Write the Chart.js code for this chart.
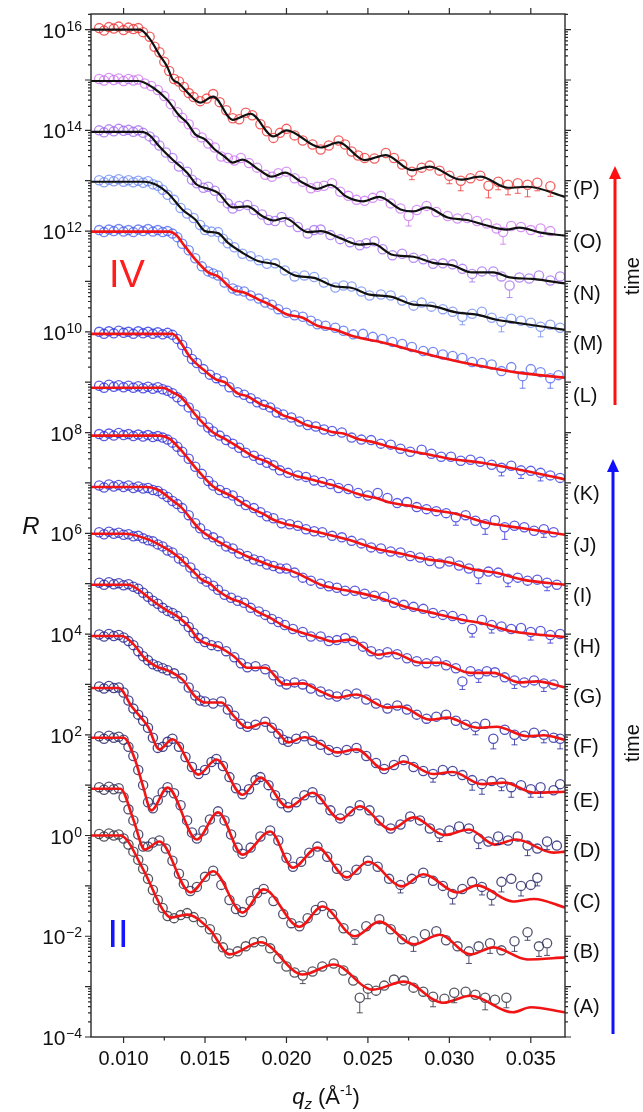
<!DOCTYPE html>
<html>
<head>
<meta charset="utf-8">
<title>Reflectivity curves</title>
<script src="https://cdn.jsdelivr.net/npm/chart.js@4.4.1/dist/chart.umd.min.js"></script>
<style>
  html, body { margin: 0; padding: 0; background: #fff; }
  #wrap { width: 643px; height: 1112px; }
</style>
</head>
<body>
<div id="wrap"><canvas id="chart" width="643" height="1112"></canvas></div>
<script>
// ---------------- data: [qz (1/A), log10 R] , optional 3rd = error bar (decades) ----------------
const FIT_A = [[0.0080,0],[0.0098,0],[0.0112,-0.67],[0.0124,-1.47],[0.0129,-1.63],[0.0139,-1.57],[0.0153,-1.87],[0.0165,-2.36],[0.0184,-2.12],[0.0210,-2.76],[0.0229,-2.56],[0.0253,-3.06],[0.0272,-2.90],[0.0296,-3.32],[0.0313,-3.18],[0.0339,-3.51],[0.0350,-3.41],[0.0371,-3.51]];
const FIT_B = [[0.0080,0.93],[0.0098,0.93],[0.0106,0.32],[0.0113,-0.28],[0.0122,-0.12],[0.0141,-1.13],[0.0155,-0.71],[0.0173,-1.53],[0.0186,-1.07],[0.0208,-1.81],[0.0222,-1.41],[0.0242,-2.00],[0.0257,-1.71],[0.0278,-2.16],[0.0294,-1.97],[0.0313,-2.36],[0.0327,-2.22],[0.0348,-2.46],[0.0371,-2.42]];
const FIT_C = [[0.0080,1.94],[0.0100,1.94],[0.0107,1.51],[0.0112,0.97],[0.0117,0.50],[0.0127,0.95],[0.0145,-0.08],[0.0158,0.46],[0.0173,-0.38],[0.0190,0.08],[0.0204,-0.64],[0.0219,-0.24],[0.0237,-0.83],[0.0250,-0.52],[0.0271,-1.01],[0.0284,-0.77],[0.0305,-1.13],[0.0317,-0.99],[0.0339,-1.31],[0.0352,-1.26],[0.0371,-1.43]];
const FIT_D = [[0.0080,2.93],[0.0097,2.93],[0.0105,2.56],[0.0115,2.16],[0.0122,1.71],[0.0130,1.91],[0.0146,1.21],[0.0157,1.51],[0.0173,0.81],[0.0184,1.15],[0.0201,0.56],[0.0216,0.85],[0.0233,0.32],[0.0245,0.58],[0.0264,0.12],[0.0278,0.36],[0.0297,0.01],[0.0312,0.12],[0.0328,-0.18],[0.0341,-0.08],[0.0364,-0.34],[0.0371,-0.32]];
const FIT_E = [[0.0080,3.96],[0.0099,3.96],[0.0106,3.80],[0.0113,3.52],[0.0120,3.36],[0.0127,3.28],[0.0136,3.10],[0.0144,2.76],[0.0150,2.64],[0.0160,2.64],[0.0168,2.36],[0.0176,2.14],[0.0187,2.24],[0.0195,2.04],[0.0201,1.85],[0.0211,1.95],[0.0221,1.82],[0.0231,1.65],[0.0243,1.71],[0.0260,1.31],[0.0272,1.47],[0.0290,1.22],[0.0302,1.26],[0.0320,1.02],[0.0334,1.05],[0.0352,0.85],[0.0371,0.87]];
const FIT_F = [[0.0080,4.98],[0.0103,4.98],[0.0110,4.86],[0.0117,4.68],[0.0126,4.48],[0.0133,4.35],[0.0140,4.15],[0.0146,3.89],[0.0152,3.80],[0.0158,3.75],[0.0168,3.55],[0.0176,3.33],[0.0187,3.33],[0.0199,3.00],[0.0210,3.02],[0.0221,2.86],[0.0231,2.74],[0.0243,2.80],[0.0262,2.54],[0.0270,2.56],[0.0288,2.30],[0.0299,2.34],[0.0317,2.14],[0.0329,2.16],[0.0348,1.97],[0.0358,1.99],[0.0371,1.90]];
const FIT_G = [[0.0080,5.99],[0.0100,5.99],[0.0115,5.88],[0.0127,5.68],[0.0134,5.52],[0.0141,5.30],[0.0148,5.08],[0.0153,5.00],[0.0158,4.86],[0.0166,4.70],[0.0173,4.62],[0.0183,4.43],[0.0190,4.32],[0.0199,4.15],[0.0210,4.02],[0.0221,3.92],[0.0229,3.85],[0.0239,3.89],[0.0256,3.59],[0.0265,3.63],[0.0282,3.43],[0.0294,3.43],[0.0313,3.23],[0.0327,3.23],[0.0343,3.04],[0.0354,3.06],[0.0371,2.94]];
const FIT_H = [[0.0080,6.92],[0.0114,6.92],[0.0122,6.85],[0.0130,6.65],[0.0135,6.53],[0.0147,6.07],[0.0159,5.82],[0.0167,5.68],[0.0176,5.54],[0.0184,5.44],[0.0192,5.34],[0.0200,5.28],[0.0207,5.20],[0.0221,4.98],[0.0231,4.90],[0.0241,4.84],[0.0257,4.72],[0.0272,4.55],[0.0288,4.43],[0.0307,4.29],[0.0323,4.19],[0.0339,4.05],[0.0371,3.94]];
const FIT_I = [[0.0080,7.94],[0.0122,7.94],[0.0128,7.88],[0.0135,7.66],[0.0145,7.27],[0.0155,6.93],[0.0161,6.82],[0.0167,6.73],[0.0174,6.58],[0.0180,6.47],[0.0186,6.38],[0.0192,6.27],[0.0200,6.18],[0.0207,6.13],[0.0214,6.06],[0.0221,6.01],[0.0237,5.88],[0.0257,5.68],[0.0270,5.60],[0.0285,5.49],[0.0300,5.42],[0.0315,5.28],[0.0328,5.22],[0.0345,5.08],[0.0371,4.98]];
const FIT_J = [[0.0080,8.89],[0.0124,8.89],[0.0130,8.80],[0.0135,8.71],[0.0145,8.32],[0.0155,8.00],[0.0162,7.88],[0.0170,7.72],[0.0180,7.52],[0.0188,7.42],[0.0196,7.27],[0.0207,7.13],[0.0213,7.09],[0.0221,7.02],[0.0231,6.93],[0.0245,6.77],[0.0255,6.70],[0.0265,6.60],[0.0275,6.55],[0.0288,6.47],[0.0305,6.38],[0.0323,6.21],[0.0345,6.10],[0.0371,5.97]];
const FIT_K = [[0.0080,9.96],[0.0130,9.96],[0.0135,9.79],[0.0141,9.49],[0.0149,9.25],[0.0157,9.05],[0.0162,9.00],[0.0170,8.78],[0.0176,8.72],[0.0185,8.55],[0.0190,8.50],[0.0198,8.34],[0.0204,8.28],[0.0213,8.14],[0.0219,8.10],[0.0228,8.01],[0.0235,7.98],[0.0245,7.86],[0.0252,7.82],[0.0262,7.73],[0.0272,7.66],[0.0288,7.56],[0.0300,7.48],[0.0320,7.40],[0.0340,7.28],[0.0371,7.07]];
const FIT_L = [[0.0080,11.99],[0.0128,11.99],[0.0133,11.90],[0.0136,11.77],[0.0144,11.44],[0.0152,11.18],[0.0158,11.10],[0.0167,10.84],[0.0174,10.78],[0.0183,10.64],[0.0191,10.52],[0.0200,10.35],[0.0210,10.28],[0.0219,10.12],[0.0230,10.04],[0.0241,9.91],[0.0259,9.79],[0.0280,9.61],[0.0300,9.45],[0.0321,9.31],[0.0342,9.19],[0.0371,9.09]];
const FIT_M = [[0.0080,12.98],[0.0113,12.98],[0.0120,12.92],[0.0127,12.76],[0.0136,12.43],[0.0144,12.23],[0.0150,12.00],[0.0158,11.96],[0.0164,11.77],[0.0173,11.57],[0.0183,11.40],[0.0193,11.34],[0.0205,11.12],[0.0217,11.07],[0.0230,10.90],[0.0239,10.88],[0.0251,10.74],[0.0264,10.70],[0.0278,10.54],[0.0288,10.52],[0.0305,10.38],[0.0317,10.34],[0.0329,10.24],[0.0341,10.18],[0.0371,10.04]];
const FIT_N = [[0.0080,13.97],[0.0111,13.97],[0.0116,13.90],[0.0122,13.68],[0.0130,13.42],[0.0139,13.16],[0.0145,12.92],[0.0152,12.84],[0.0158,12.76],[0.0167,12.47],[0.0176,12.49],[0.0185,12.30],[0.0192,12.21],[0.0199,12.26],[0.0213,11.98],[0.0221,12.00],[0.0233,11.86],[0.0245,11.73],[0.0253,11.75],[0.0265,11.53],[0.0278,11.49],[0.0290,11.37],[0.0302,11.32],[0.0314,11.18],[0.0327,11.18],[0.0337,11.08],[0.0351,11.05],[0.0371,10.96]];
const FIT_O = [[0.0080,14.98],[0.0109,14.98],[0.0118,14.85],[0.0127,14.60],[0.0134,14.30],[0.0139,14.15],[0.0144,13.92],[0.0150,13.82],[0.0156,13.62],[0.0162,13.48],[0.0167,13.36],[0.0173,13.42],[0.0183,13.22],[0.0191,13.08],[0.0199,13.16],[0.0210,12.96],[0.0219,12.84],[0.0227,12.92],[0.0237,12.68],[0.0247,12.59],[0.0257,12.68],[0.0270,12.43],[0.0278,12.39],[0.0286,12.47],[0.0299,12.27],[0.0311,12.22],[0.0323,12.11],[0.0335,12.03],[0.0343,12.07],[0.0356,11.97],[0.0371,11.91]];
const FIT_P = [[0.0080,16.00],[0.0110,16.00],[0.0116,15.82],[0.0122,15.50],[0.0127,15.25],[0.0130,15.02],[0.0134,14.93],[0.0139,14.76],[0.0147,14.55],[0.0155,14.67],[0.0167,14.21],[0.0178,14.33],[0.0192,13.88],[0.0200,14.00],[0.0221,13.66],[0.0232,13.76],[0.0248,13.41],[0.0261,13.51],[0.0277,13.21],[0.0288,13.28],[0.0307,13.02],[0.0319,13.08],[0.0336,12.86],[0.0348,12.88],[0.0371,12.68]];

const DATA_A = [[0.0085,0.03],[0.0088,-0.02],[0.0091,0.04],[0.0094,0.00],[0.0097,0.02],[0.0100,-0.06],[0.0103,-0.18],[0.0106,-0.32],[0.0109,-0.48],[0.0112,-0.66],[0.0115,-0.86],[0.0118,-1.08],[0.0121,-1.28],[0.0124,-1.44],[0.0127,-1.60],[0.0131,-1.64],[0.0135,-1.58],[0.0139,-1.54],[0.0143,-1.62],[0.0148,-1.72],[0.0153,-1.86],[0.0157,-2.04],[0.0161,-2.22],[0.0165,-2.34],[0.0170,-2.30],[0.0175,-2.20],[0.0180,-2.12],[0.0185,-2.10],[0.0190,-2.24],[0.0195,-2.44],[0.0200,-2.60],[0.0205,-2.72],[0.0210,-2.78,0.16],[0.0216,-2.70],[0.0222,-2.60],[0.0229,-2.54],[0.0235,-2.68],[0.0241,-2.88],[0.0245,-3.22,0.3],[0.0250,-3.04,0.2],[0.0255,-3.08],[0.0260,-2.98],[0.0266,-2.86],[0.0272,-2.88],[0.0278,-3.02],[0.0284,-3.10],[0.0290,-3.20,0.2],[0.0297,-3.24],[0.0303,-3.12,0.2],[0.0310,-3.10],[0.0316,-3.16],[0.0322,-3.22,0.24],[0.0328,-3.26],[0.0335,-3.22,0.2]];
const DATA_B = [[0.0085,0.96],[0.0088,0.91],[0.0091,0.97],[0.0094,0.92],[0.0097,0.94],[0.0100,0.76],[0.0103,0.52],[0.0106,0.30],[0.0109,0.02],[0.0112,-0.22],[0.0115,-0.22],[0.0118,-0.14],[0.0122,-0.10],[0.0126,-0.26],[0.0130,-0.50],[0.0134,-0.76],[0.0137,-0.96],[0.0141,-1.10],[0.0145,-1.02],[0.0150,-0.82],[0.0155,-0.70],[0.0160,-0.98],[0.0165,-1.28],[0.0169,-1.46],[0.0173,-1.52],[0.0178,-1.30],[0.0182,-1.14],[0.0186,-1.06],[0.0192,-1.30],[0.0198,-1.56],[0.0203,-1.74],[0.0208,-1.80],[0.0213,-1.64],[0.0218,-1.48],[0.0222,-1.40],[0.0228,-1.56],[0.0235,-1.84],[0.0242,-1.96,0.2],[0.0249,-1.80],[0.0257,-1.66],[0.0264,-1.86],[0.0271,-2.06],[0.0278,-2.10,0.2],[0.0285,-1.96],[0.0292,-1.90],[0.0298,-2.08],[0.0305,-2.20],[0.0312,-2.30,0.24],[0.0318,-2.20],[0.0325,-2.14,0.2],[0.0332,-2.28],[0.0340,-2.10,0.2],[0.0348,-1.92,0.16],[0.0355,-2.20,0.2],[0.0360,-2.14,0.24]];
const DATA_C = [[0.0085,1.97],[0.0088,1.92],[0.0091,1.98],[0.0094,1.94],[0.0097,1.96],[0.0100,1.90],[0.0103,1.76],[0.0106,1.58],[0.0109,1.30],[0.0112,1.00],[0.0115,0.66],[0.0118,0.54],[0.0121,0.70],[0.0124,0.86],[0.0127,0.96],[0.0131,0.84],[0.0135,0.60],[0.0139,0.30],[0.0142,0.06],[0.0145,-0.06],[0.0149,0.10],[0.0153,0.32],[0.0158,0.48],[0.0162,0.30],[0.0166,0.02],[0.0170,-0.24],[0.0173,-0.36],[0.0178,-0.24],[0.0184,-0.02],[0.0190,0.10],[0.0195,-0.10],[0.0200,-0.44],[0.0204,-0.62],[0.0209,-0.52],[0.0214,-0.34],[0.0219,-0.22],[0.0225,-0.42],[0.0231,-0.66],[0.0237,-0.80],[0.0243,-0.68],[0.0250,-0.50],[0.0256,-0.62],[0.0263,-0.86],[0.0270,-0.98,0.16],[0.0277,-0.86],[0.0284,-0.74],[0.0290,-0.90],[0.0296,-1.00],[0.0302,-1.16,0.2],[0.0308,-1.06],[0.0314,-0.92],[0.0320,-1.02,0.16],[0.0326,-1.18,0.2],[0.0332,-0.92,0.2],[0.0338,-0.86],[0.0344,-1.00,0.2],[0.0350,-0.98],[0.0354,-0.84,0.16]];
const DATA_D = [[0.0085,2.96],[0.0088,2.92],[0.0091,2.97],[0.0094,2.93],[0.0097,2.94],[0.0100,2.84],[0.0103,2.68],[0.0106,2.52],[0.0109,2.40],[0.0112,2.28],[0.0115,2.14],[0.0118,1.94],[0.0121,1.74],[0.0124,1.76],[0.0127,1.86],[0.0130,1.92],[0.0134,1.76],[0.0138,1.56],[0.0142,1.36],[0.0146,1.22],[0.0150,1.30],[0.0154,1.46],[0.0157,1.52],[0.0161,1.38],[0.0165,1.16],[0.0169,0.94],[0.0173,0.82],[0.0177,0.92],[0.0181,1.10],[0.0184,1.16],[0.0189,1.00],[0.0193,0.80],[0.0197,0.64],[0.0201,0.56],[0.0206,0.66],[0.0211,0.80],[0.0216,0.86],[0.0221,0.72],[0.0227,0.50],[0.0233,0.34],[0.0239,0.48],[0.0245,0.60],[0.0251,0.50],[0.0257,0.30],[0.0264,0.14],[0.0270,0.22],[0.0276,0.38],[0.0282,0.30],[0.0288,0.14],[0.0294,0.04,0.16],[0.0300,0.10],[0.0306,0.18],[0.0312,0.14],[0.0318,-0.06,0.2],[0.0324,-0.12],[0.0330,-0.02,0.16],[0.0336,-0.10],[0.0342,-0.02],[0.0348,-0.20,0.2],[0.0354,-0.26],[0.0360,-0.12,0.16],[0.0366,-0.20]];
const DATA_E = [[0.0085,3.99],[0.0088,3.95],[0.0091,4.00],[0.0094,3.96],[0.0097,3.98],[0.0100,3.93],[0.0103,3.86],[0.0106,3.78],[0.0109,3.66],[0.0112,3.56],[0.0115,3.48],[0.0118,3.40],[0.0121,3.36],[0.0124,3.32],[0.0127,3.28],[0.0131,3.22],[0.0136,3.12],[0.0140,2.94],[0.0144,2.78],[0.0147,2.68],[0.0150,2.66],[0.0155,2.62],[0.0160,2.66],[0.0164,2.50],[0.0168,2.38],[0.0172,2.22],[0.0176,2.16],[0.0181,2.20],[0.0187,2.26],[0.0191,2.14],[0.0195,2.02],[0.0198,1.90],[0.0201,1.86],[0.0206,1.92],[0.0211,1.97],[0.0216,1.88],[0.0221,1.80],[0.0226,1.70],[0.0231,1.66],[0.0237,1.70],[0.0243,1.74],[0.0249,1.58],[0.0255,1.44],[0.0260,1.32],[0.0266,1.40],[0.0272,1.50],[0.0278,1.36],[0.0284,1.28],[0.0290,1.22,0.16],[0.0296,1.30],[0.0302,1.28],[0.0308,1.20],[0.0314,1.10,0.2],[0.0320,1.02,0.2],[0.0326,1.08],[0.0332,1.05,0.16],[0.0338,0.96,0.2],[0.0344,1.00],[0.0350,0.92,0.16],[0.0356,0.96,0.2],[0.0364,0.90],[0.0368,1.02]];
const DATA_F = [[0.0085,5.02],[0.0088,4.98],[0.0091,5.03],[0.0094,4.99],[0.0097,5.01],[0.0100,4.97],[0.0103,4.99],[0.0106,4.94],[0.0109,4.90],[0.0112,4.82],[0.0115,4.74],[0.0118,4.66],[0.0121,4.60],[0.0124,4.52],[0.0127,4.46],[0.0130,4.42],[0.0133,4.36],[0.0137,4.26],[0.0140,4.14],[0.0143,4.02],[0.0146,3.92],[0.0150,3.84],[0.0154,3.78],[0.0158,3.76],[0.0163,3.66],[0.0168,3.54],[0.0172,3.42],[0.0176,3.34],[0.0181,3.36],[0.0187,3.30],[0.0192,3.18],[0.0196,3.06],[0.0200,3.00],[0.0205,3.04],[0.0210,3.00],[0.0215,2.92],[0.0221,2.86],[0.0226,2.80],[0.0231,2.76],[0.0237,2.80],[0.0243,2.82],[0.0249,2.70],[0.0255,2.62],[0.0262,2.52],[0.0268,2.58],[0.0274,2.50],[0.0280,2.40],[0.0286,2.32],[0.0292,2.36],[0.0298,2.40],[0.0304,2.28],[0.0310,2.20],[0.0316,2.16,0.16],[0.0322,2.22],[0.0327,1.92,0.2],[0.0334,2.10],[0.0340,2.00,0.2],[0.0346,1.98],[0.0352,2.04],[0.0358,2.00,0.16],[0.0364,1.94],[0.0368,1.92,0.2]];
const DATA_G = [[0.0085,6.02],[0.0088,5.98],[0.0091,6.03],[0.0094,5.99],[0.0097,6.01],[0.0100,5.97],[0.0103,5.98],[0.0106,5.94],[0.0109,5.95],[0.0112,5.90],[0.0115,5.86],[0.0118,5.84],[0.0121,5.78],[0.0124,5.74],[0.0127,5.66],[0.0130,5.62],[0.0134,5.50],[0.0137,5.44],[0.0141,5.32],[0.0144,5.20],[0.0148,5.10],[0.0151,5.04],[0.0155,4.96],[0.0158,4.88],[0.0162,4.78],[0.0166,4.72],[0.0170,4.66],[0.0174,4.62],[0.0178,4.52],[0.0183,4.45],[0.0187,4.38],[0.0191,4.30],[0.0195,4.24],[0.0199,4.18],[0.0204,4.10],[0.0210,4.04],[0.0215,3.95],[0.0221,3.95],[0.0226,3.86],[0.0231,3.88],[0.0236,3.92],[0.0241,3.86],[0.0247,3.75],[0.0252,3.66],[0.0257,3.60],[0.0262,3.64],[0.0268,3.60],[0.0274,3.52],[0.0280,3.46],[0.0286,3.42],[0.0292,3.46],[0.0298,3.38],[0.0304,3.32],[0.0308,3.06,0.16],[0.0313,3.26],[0.0318,3.20,0.16],[0.0323,3.26],[0.0328,3.24],[0.0334,3.14],[0.0340,3.08,0.16],[0.0346,3.04],[0.0352,3.08],[0.0358,3.02,0.16],[0.0364,3.00]];
const DATA_H = [[0.0085,6.95],[0.0088,6.91],[0.0091,6.97],[0.0094,6.93],[0.0097,6.96],[0.0100,6.92],[0.0103,6.95],[0.0106,6.90],[0.0109,6.93],[0.0112,6.89],[0.0115,6.90],[0.0118,6.86],[0.0121,6.84],[0.0124,6.78],[0.0127,6.72],[0.0130,6.64],[0.0133,6.58],[0.0136,6.50],[0.0140,6.36],[0.0144,6.20],[0.0147,6.10],[0.0151,5.98],[0.0155,5.92],[0.0159,5.84],[0.0163,5.74],[0.0167,5.70],[0.0171,5.60],[0.0176,5.55],[0.0180,5.48],[0.0184,5.45],[0.0188,5.38],[0.0192,5.35],[0.0196,5.30],[0.0200,5.30],[0.0205,5.22],[0.0210,5.12],[0.0215,5.06],[0.0221,5.00],[0.0226,4.95],[0.0231,4.92],[0.0236,4.86],[0.0242,4.86],[0.0248,4.80],[0.0254,4.76],[0.0260,4.74],[0.0266,4.62],[0.0272,4.58],[0.0278,4.54],[0.0284,4.50],[0.0290,4.42],[0.0296,4.38],[0.0302,4.36],[0.0308,4.30],[0.0314,4.10,0.16],[0.0320,4.28],[0.0326,4.18,0.16],[0.0332,4.15],[0.0338,4.10],[0.0344,4.12],[0.0350,4.04,0.16],[0.0356,4.06],[0.0362,3.98,0.16],[0.0368,4.00]];
const DATA_I = [[0.0085,7.97],[0.0088,7.93],[0.0091,7.98],[0.0094,7.94],[0.0097,7.99],[0.0100,7.95],[0.0103,7.97],[0.0106,7.93],[0.0109,7.96],[0.0112,7.92],[0.0115,7.95],[0.0118,7.91],[0.0121,7.93],[0.0124,7.90],[0.0127,7.86],[0.0130,7.80],[0.0133,7.72],[0.0136,7.62],[0.0140,7.48],[0.0144,7.32],[0.0148,7.18],[0.0152,7.04],[0.0155,6.95],[0.0159,6.86],[0.0163,6.80],[0.0167,6.75],[0.0171,6.64],[0.0175,6.56],[0.0180,6.50],[0.0184,6.42],[0.0188,6.34],[0.0192,6.30],[0.0197,6.20],[0.0202,6.18],[0.0207,6.15],[0.0212,6.08],[0.0217,6.04],[0.0222,6.02],[0.0228,5.95],[0.0234,5.92],[0.0240,5.85],[0.0246,5.80],[0.0252,5.72],[0.0258,5.70],[0.0264,5.64],[0.0270,5.62],[0.0276,5.55],[0.0282,5.52],[0.0288,5.45],[0.0294,5.40],[0.0300,5.44],[0.0306,5.36],[0.0312,5.30],[0.0318,5.20,0.2],[0.0324,5.24],[0.0330,5.22],[0.0336,5.10,0.16],[0.0342,5.12],[0.0348,5.06],[0.0354,5.08],[0.0360,5.02,0.16],[0.0366,4.98]];
const DATA_J = [[0.0085,8.93],[0.0088,8.89],[0.0091,8.95],[0.0094,8.91],[0.0097,8.94],[0.0100,8.90],[0.0103,8.93],[0.0106,8.89],[0.0109,8.92],[0.0112,8.88],[0.0115,8.91],[0.0118,8.87],[0.0121,8.90],[0.0124,8.86],[0.0127,8.83],[0.0130,8.78],[0.0133,8.70],[0.0136,8.62],[0.0140,8.50],[0.0144,8.36],[0.0148,8.22],[0.0152,8.10],[0.0155,8.02],[0.0159,7.94],[0.0163,7.85],[0.0167,7.78],[0.0171,7.70],[0.0175,7.60],[0.0180,7.54],[0.0184,7.46],[0.0188,7.40],[0.0192,7.35],[0.0196,7.25],[0.0201,7.20],[0.0207,7.15],[0.0212,7.12],[0.0217,7.05],[0.0222,7.02],[0.0227,6.98],[0.0232,6.90],[0.0238,6.88],[0.0244,6.80],[0.0250,6.75],[0.0256,6.80],[0.0262,6.70],[0.0268,6.60],[0.0274,6.62],[0.0280,6.52],[0.0286,6.48],[0.0292,6.44],[0.0298,6.40],[0.0304,6.32,0.16],[0.0310,6.36],[0.0316,6.25],[0.0322,6.18,0.2],[0.0328,6.26],[0.0334,6.12,0.24],[0.0340,6.15],[0.0346,6.12],[0.0352,6.05],[0.0358,6.08,0.16],[0.0364,6.02]];
const DATA_K = [[0.0085,10.00],[0.0088,9.96],[0.0091,10.01],[0.0094,9.97],[0.0097,10.02],[0.0100,9.98],[0.0103,10.00],[0.0106,9.96],[0.0109,10.01],[0.0112,9.97],[0.0115,10.00],[0.0118,9.96],[0.0121,9.99],[0.0124,9.95],[0.0127,9.98],[0.0130,9.94],[0.0133,9.86],[0.0136,9.74],[0.0139,9.60],[0.0142,9.46],[0.0145,9.38],[0.0149,9.26],[0.0153,9.15],[0.0157,9.08],[0.0161,9.02],[0.0165,8.90],[0.0170,8.80],[0.0174,8.75],[0.0178,8.68],[0.0182,8.60],[0.0186,8.55],[0.0190,8.50],[0.0194,8.40],[0.0198,8.36],[0.0203,8.30],[0.0208,8.22],[0.0213,8.15],[0.0218,8.12],[0.0223,8.06],[0.0228,8.03],[0.0234,8.00],[0.0240,7.90],[0.0246,7.86],[0.0252,7.85],[0.0258,7.78],[0.0264,7.76],[0.0270,7.68],[0.0276,7.62],[0.0283,7.66],[0.0289,7.58],[0.0295,7.52],[0.0301,7.52],[0.0307,7.44],[0.0313,7.46],[0.0319,7.42],[0.0326,7.36],[0.0332,7.30,0.16],[0.0338,7.34],[0.0344,7.25,0.16],[0.0350,7.24],[0.0356,7.20,0.16],[0.0362,7.15],[0.0368,7.10]];
const DATA_L = [[0.0085,12.02],[0.0088,11.98],[0.0091,12.03],[0.0094,12.00],[0.0097,12.04],[0.0100,11.99],[0.0103,12.02],[0.0106,11.98],[0.0109,12.03],[0.0112,12.00],[0.0115,12.04],[0.0118,11.99],[0.0121,12.02],[0.0124,11.98],[0.0127,12.00],[0.0130,11.95],[0.0133,11.88],[0.0136,11.75],[0.0140,11.62],[0.0144,11.46],[0.0148,11.30],[0.0152,11.20],[0.0155,11.16],[0.0158,11.12],[0.0162,10.98],[0.0167,10.86],[0.0170,10.82],[0.0174,10.80],[0.0178,10.72],[0.0183,10.66],[0.0187,10.58],[0.0191,10.54],[0.0195,10.45],[0.0200,10.38],[0.0205,10.33],[0.0210,10.30],[0.0215,10.22],[0.0219,10.15],[0.0224,10.12],[0.0230,10.08],[0.0235,10.02],[0.0241,9.95],[0.0247,9.96],[0.0253,9.90],[0.0259,9.86],[0.0265,9.80],[0.0271,9.76],[0.0277,9.70],[0.0284,9.62],[0.0290,9.60],[0.0296,9.55],[0.0302,9.52],[0.0308,9.48],[0.0314,9.40],[0.0320,9.38],[0.0326,9.35],[0.0332,9.22],[0.0338,9.30],[0.0345,9.12,0.24],[0.0350,9.26],[0.0356,9.20],[0.0362,9.08,0.2],[0.0367,9.14]];
const DATA_M = [[0.0085,13.01],[0.0088,12.97],[0.0091,13.02],[0.0094,12.99],[0.0097,13.03],[0.0100,12.98],[0.0103,13.01],[0.0106,12.97],[0.0109,13.00],[0.0112,12.96],[0.0115,12.99],[0.0118,12.93],[0.0121,12.90],[0.0124,12.82],[0.0127,12.72],[0.0131,12.62],[0.0135,12.46],[0.0139,12.35],[0.0143,12.26],[0.0147,12.12],[0.0150,12.02],[0.0154,11.99],[0.0158,11.98],[0.0161,11.85],[0.0164,11.76],[0.0168,11.68],[0.0173,11.55],[0.0178,11.50],[0.0183,11.42],[0.0188,11.35],[0.0193,11.36],[0.0199,11.22],[0.0205,11.10],[0.0211,11.12],[0.0217,11.09],[0.0223,10.98],[0.0230,10.88],[0.0235,10.92],[0.0240,10.90],[0.0246,10.80],[0.0251,10.72],[0.0258,10.74],[0.0264,10.72],[0.0271,10.62],[0.0278,10.52],[0.0283,10.58],[0.0289,10.50],[0.0296,10.45],[0.0302,10.40],[0.0308,10.30,0.16],[0.0314,10.36],[0.0320,10.40],[0.0326,10.28],[0.0332,10.20,0.2],[0.0338,10.26],[0.0344,10.22],[0.0350,10.18],[0.0356,10.10,0.2],[0.0362,10.14],[0.0368,10.08]];
const DATA_N = [[0.0085,14.00],[0.0088,13.96],[0.0091,14.02],[0.0094,13.98],[0.0097,14.03],[0.0100,13.99],[0.0103,14.01],[0.0106,13.97],[0.0109,14.00],[0.0112,13.95],[0.0116,13.88],[0.0119,13.80],[0.0122,13.70],[0.0126,13.56],[0.0130,13.45],[0.0134,13.28],[0.0139,13.18],[0.0142,13.02],[0.0145,12.95],[0.0149,12.86],[0.0152,12.88],[0.0156,12.80],[0.0160,12.66],[0.0164,12.55],[0.0167,12.45],[0.0171,12.50],[0.0176,12.52],[0.0180,12.42],[0.0185,12.33],[0.0189,12.22],[0.0193,12.20],[0.0197,12.28],[0.0202,12.18],[0.0207,12.08],[0.0213,11.95],[0.0217,12.02],[0.0221,12.03],[0.0227,11.92],[0.0233,11.84],[0.0239,11.78],[0.0245,11.72],[0.0249,11.76],[0.0254,11.80],[0.0259,11.64],[0.0265,11.52],[0.0271,11.55],[0.0278,11.47],[0.0284,11.44],[0.0290,11.35],[0.0296,11.36],[0.0302,11.34],[0.0308,11.25],[0.0314,11.15,0.16],[0.0320,11.20],[0.0327,11.20],[0.0332,11.10],[0.0337,10.92,0.24],[0.0343,11.08],[0.0349,11.06],[0.0355,11.12],[0.0362,11.02],[0.0368,11.10]];
const DATA_O = [[0.0085,15.02],[0.0088,14.99],[0.0091,15.04],[0.0094,15.00],[0.0097,15.03],[0.0100,14.98],[0.0103,15.02],[0.0106,14.99],[0.0109,15.01],[0.0113,14.93],[0.0117,14.88],[0.0121,14.80],[0.0125,14.68],[0.0129,14.52],[0.0133,14.36],[0.0136,14.25],[0.0140,14.12],[0.0144,13.95],[0.0148,13.86],[0.0152,13.74],[0.0156,13.66],[0.0160,13.48],[0.0164,13.45],[0.0168,13.40],[0.0172,13.45],[0.0177,13.35],[0.0182,13.26],[0.0187,13.12],[0.0191,13.08],[0.0195,13.15],[0.0200,13.18],[0.0205,13.05],[0.0210,12.98],[0.0215,12.85],[0.0219,12.88],[0.0223,12.90],[0.0228,12.95],[0.0233,12.78],[0.0238,12.70],[0.0243,12.62],[0.0248,12.60],[0.0253,12.66],[0.0258,12.70],[0.0264,12.55],[0.0270,12.45],[0.0275,12.30,0.2],[0.0280,12.42],[0.0286,12.50],[0.0292,12.38],[0.0299,12.30],[0.0305,12.25],[0.0311,12.26],[0.0317,12.20],[0.0323,12.15],[0.0329,12.05],[0.0333,11.98,0.24],[0.0338,12.10],[0.0344,12.08],[0.0350,12.02],[0.0356,12.05,0.16],[0.0362,12.00]];
const DATA_P = [[0.0085,16.03],[0.0088,15.98],[0.0091,16.05],[0.0094,16.02],[0.0097,16.06],[0.0100,15.99],[0.0103,16.04],[0.0106,16.01],[0.0109,16.03],[0.0112,15.95],[0.0116,15.86],[0.0119,15.66],[0.0122,15.55],[0.0125,15.36],[0.0128,15.18],[0.0131,15.02],[0.0134,14.97],[0.0137,14.86],[0.0140,14.74],[0.0143,14.66],[0.0147,14.58],[0.0151,14.63],[0.0155,14.72],[0.0159,14.56],[0.0163,14.40],[0.0167,14.24],[0.0171,14.22],[0.0175,14.35],[0.0179,14.30],[0.0184,14.12],[0.0188,13.98],[0.0192,13.85],[0.0196,13.95],[0.0200,14.03],[0.0205,13.90],[0.0210,13.80],[0.0216,13.72],[0.0221,13.62],[0.0226,13.70],[0.0232,13.80],[0.0236,13.72],[0.0240,13.58],[0.0244,13.50],[0.0248,13.45],[0.0254,13.44],[0.0261,13.55],[0.0266,13.45],[0.0271,13.32],[0.0277,13.18,0.16],[0.0283,13.26],[0.0288,13.30],[0.0294,13.20],[0.0300,13.10,0.16],[0.0307,13.00,0.2],[0.0313,13.05],[0.0319,13.10],[0.0324,12.90,0.24],[0.0330,12.98,0.16],[0.0336,12.92,0.2],[0.0342,12.95,0.2],[0.0348,12.92,0.24],[0.0354,12.96,0.16],[0.0362,12.89,0.2]];

const CURVE_LABELS = ["(A)","(B)","(C)","(D)","(E)","(F)","(G)","(H)","(I)","(J)","(K)","(L)","(M)","(N)","(O)","(P)"];
// where each right-hand label sits, in log10 R
const LABEL_LOG = [-3.41,-2.32,-1.33,-0.32,0.67,1.75,2.74,3.73,4.74,5.74,6.77,8.71,9.75,10.74,11.77,12.82];

// axes
const X_MIN = 0.008, X_MAX = 0.0371;
const Y_MIN_EXP = -4, Y_MAX_EXP = 16.31;
const X_TICKS = [0.010, 0.015, 0.020, 0.025, 0.030, 0.035];
const X_TICK_LABELS = ["0.010", "0.015", "0.020", "0.025", "0.030", "0.035"];
const X_MINOR_TICKS = [0.0125, 0.0175, 0.0225, 0.0275, 0.0325];
const Y_LABEL_EXPS = [-4, -2, 0, 2, 4, 6, 8, 10, 12, 14, 16];

// ---------------- styles ----------------
const FITS = [FIT_A, FIT_B, FIT_C, FIT_D, FIT_E, FIT_F, FIT_G, FIT_H, FIT_I, FIT_J, FIT_K, FIT_L, FIT_M, FIT_N, FIT_O, FIT_P];
const DATAS = [DATA_A, DATA_B, DATA_C, DATA_D, DATA_E, DATA_F, DATA_G, DATA_H, DATA_I, DATA_J, DATA_K, DATA_L, DATA_M, DATA_N, DATA_O, DATA_P];
const DOT_COLORS = [
  "rgba(55,55,68,0.85)", "rgba(52,52,88,0.85)", "rgba(46,46,108,0.85)", "rgba(38,38,120,0.85)",
  "rgba(36,36,140,0.82)", "rgba(36,36,168,0.8)", "rgba(45,45,198,0.78)", "rgba(45,45,208,0.78)",
  "rgba(45,45,214,0.78)", "rgba(45,45,220,0.78)", "rgba(45,55,224,0.78)", "rgba(65,90,235,0.72)",
  "rgba(100,130,240,0.72)", "rgba(155,95,238,0.72)", "rgba(198,105,238,0.72)", "rgba(238,55,55,0.8)"
];
const FIT_COLORS = FITS.map((f, i) => i >= 12 ? "#111" : "#f01414");
const FONT = '"Liberation Sans", Arial, Helvetica, sans-serif';

const pow10 = (e) => Math.pow(10, e);

// ---------------- datasets ----------------
const datasets = [];
FITS.forEach((fit, i) => {
  datasets.push({
    label: "fit " + CURVE_LABELS[i],
    data: fit.map(p => ({ x: p[0], y: pow10(p[1]) })),
    showLine: true,
    borderColor: FIT_COLORS[i],
    borderWidth: i >= 12 ? 2.2 : 2.6,
    pointRadius: 0,
    cubicInterpolationMode: "monotone",
    fill: false,
    order: 0
  });
});
DATAS.forEach((d, i) => {
  datasets.push({
    label: "data " + CURVE_LABELS[i],
    data: d.map(p => ({ x: p[0], y: pow10(p[1]), err: p[2] || 0, e: p[1] })),
    showLine: false,
    pointStyle: "circle",
    pointRadius: 4.6,
    pointBorderWidth: 1.3,
    pointBorderColor: DOT_COLORS[i],
    pointBackgroundColor: "rgba(0,0,0,0)",
    order: 1
  });
});

// ---------------- plugins ----------------
const errorBarPlugin = {
  id: "errorBars",
  afterDatasetsDraw(chart) {
    const { ctx } = chart;
    const xs = chart.scales.x, ys = chart.scales.y;
    ctx.save();
    ctx.lineWidth = 1;
    chart.data.datasets.forEach((ds) => {
      if (ds.showLine) return;
      ctx.strokeStyle = ds.pointBorderColor;
      ds.data.forEach(p => {
        if (!p.err) return;
        const px = xs.getPixelForValue(p.x);
        const py = ys.getPixelForValue(p.y);
        const lo = ys.getPixelForValue(pow10(p.e - p.err));
        if (lo - py <= 5) return;
        ctx.beginPath();
        ctx.moveTo(px, py + 5);
        ctx.lineTo(px, lo);
        ctx.moveTo(px - 3, lo);
        ctx.lineTo(px + 3, lo);
        ctx.stroke();
      });
    });
    ctx.restore();
  }
};

const axesPlugin = {
  id: "axesFrame",
  afterDraw(chart) {
    const { ctx, chartArea: a } = chart;
    const xs = chart.scales.x, ys = chart.scales.y;
    ctx.save();
    ctx.strokeStyle = "#2a2a2a";
    ctx.lineWidth = 1.4;
    ctx.strokeRect(a.left, a.top, a.right - a.left, a.bottom - a.top);

    ctx.lineWidth = 1.2;
    ctx.beginPath();
    X_TICKS.forEach(v => {
      const px = xs.getPixelForValue(v);
      ctx.moveTo(px, a.bottom); ctx.lineTo(px, a.bottom + 6);
      ctx.moveTo(px, a.top); ctx.lineTo(px, a.top - 6);
    });
    X_MINOR_TICKS.forEach(v => {
      const px = xs.getPixelForValue(v);
      ctx.moveTo(px, a.bottom); ctx.lineTo(px, a.bottom + 3.5);
      ctx.moveTo(px, a.top); ctx.lineTo(px, a.top - 3.5);
    });
    for (let e = Y_MIN_EXP; e <= Math.floor(Y_MAX_EXP); e++) {
      for (let m = 1; m <= 9; m++) {
        const lv = e + Math.log10(m);
        if (lv > Y_MAX_EXP) continue;
        const py = ys.getPixelForValue(pow10(lv));
        const len = m === 1 ? 6 : 3;
        ctx.moveTo(a.left, py); ctx.lineTo(a.left - len, py);
        ctx.moveTo(a.right, py); ctx.lineTo(a.right + len, py);
      }
    }
    ctx.stroke();

    // tick labels
    ctx.fillStyle = "#111";
    ctx.font = "20px " + FONT;
    ctx.textAlign = "center";
    ctx.textBaseline = "alphabetic";
    X_TICKS.forEach((v, i) => {
      ctx.fillText(X_TICK_LABELS[i], xs.getPixelForValue(v), a.bottom + 28);
    });
    Y_LABEL_EXPS.forEach(e => {
      const py = ys.getPixelForValue(pow10(e));
      const sup = String(e).replace("-", "\u2212");
      ctx.font = "14px " + FONT;
      const sw = ctx.measureText(sup).width;
      const right = a.left - 9;
      ctx.textAlign = "left";
      ctx.fillText(sup, right - sw, py + 1);
      ctx.font = "21px " + FONT;
      ctx.textAlign = "right";
      ctx.fillText("10", right - sw - 0.5, py + 8);
    });

    // axis titles
    ctx.font = "italic 24px " + FONT;
    ctx.textAlign = "center";
    ctx.fillText("R", 31, (a.top + a.bottom) / 2 + 8);

    const parts = [
      { t: "q", f: "italic 22px " + FONT, dy: 0 },
      { t: "z", f: "italic 15px " + FONT, dy: 5 },
      { t: " (\u00C5", f: "22px " + FONT, dy: 0 },
      { t: "-1", f: "14px " + FONT, dy: -9 },
      { t: ")", f: "22px " + FONT, dy: 0 }
    ];
    let total = 0;
    parts.forEach(p => { ctx.font = p.f; p.w = ctx.measureText(p.t).width; total += p.w; });
    let cx = 326 - total / 2;
    ctx.textAlign = "left";
    parts.forEach(p => { ctx.font = p.f; ctx.fillText(p.t, cx, 1104 + p.dy); cx += p.w; });

    // curve labels on the right
    ctx.font = "20px " + FONT;
    ctx.textAlign = "left";
    ctx.textBaseline = "middle";
    CURVE_LABELS.forEach((lab, i) => {
      ctx.fillText(lab, a.right + 8, ys.getPixelForValue(pow10(LABEL_LOG[i])));
    });

    // regime marks
    ctx.font = "38px " + FONT;
    ctx.textAlign = "center";
    ctx.fillStyle = "#ff1e1e";
    ctx.fillText("IV", 127, 277);
    ctx.fillStyle = "#1515ff";
    ctx.fillText("II", 118, 937);

    // time arrows
    const arrow = (x, yBottom, yTip, color) => {
      ctx.strokeStyle = color; ctx.fillStyle = color;
      ctx.lineWidth = 3;
      ctx.beginPath(); ctx.moveTo(x, yBottom); ctx.lineTo(x, yTip + 10); ctx.stroke();
      ctx.beginPath(); ctx.moveTo(x, yTip); ctx.lineTo(x - 6, yTip + 13); ctx.lineTo(x + 6, yTip + 13); ctx.closePath(); ctx.fill();
    };
    arrow(615, 405, 166, "#ff1010");
    arrow(613, 1034, 459, "#1010ff");
    ctx.fillStyle = "#111";
    ctx.font = "20px " + FONT;
    [[633, 276], [633, 743]].forEach(([tx, ty]) => {
      ctx.save();
      ctx.translate(tx, ty);
      ctx.rotate(-Math.PI / 2);
      ctx.textAlign = "center";
      ctx.textBaseline = "middle";
      ctx.fillText("time", 0, 0);
      ctx.restore();
    });
    ctx.restore();
  }
};

// ---------------- chart ----------------
new Chart(document.getElementById("chart").getContext("2d"), {
  type: "scatter",
  data: { datasets },
  options: {
    responsive: false,
    animation: false,
    layout: { padding: { left: 91, right: 78, top: 14, bottom: 75 } },
    scales: {
      x: { type: "linear", min: X_MIN, max: X_MAX, display: false },
      y: { type: "logarithmic", min: pow10(Y_MIN_EXP), max: pow10(Y_MAX_EXP), display: false }
    },
    plugins: { legend: { display: false }, tooltip: { enabled: false } }
  },
  plugins: [errorBarPlugin, axesPlugin]
});
</script>
</body>
</html>
